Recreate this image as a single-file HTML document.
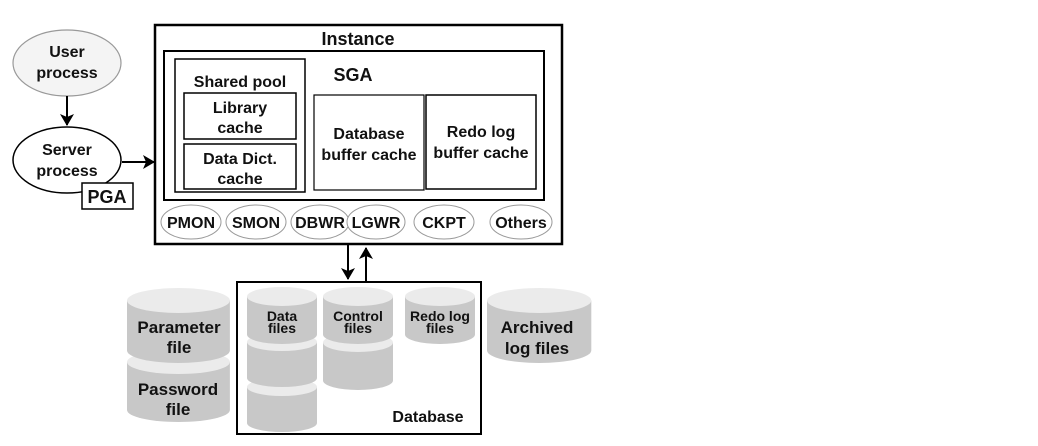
<!DOCTYPE html>
<html><head><style>
body{margin:0;background:#fff;}
svg text{font-family:"Liberation Sans",sans-serif;font-weight:bold;fill:#111;text-anchor:middle;}
</style></head><body>
<svg width="1038" height="441" viewBox="0 0 1038 441" xmlns="http://www.w3.org/2000/svg">
<defs>
<marker id="ah" markerWidth="12" markerHeight="14" refX="11" refY="7" orient="auto" markerUnits="userSpaceOnUse"><path d="M0,0 L12,7 L0,14 L3,7 z" fill="#000"/></marker>
<g id="cyl"><path d="M0,10 v40 a35,10 0 0 0 70,0 v-40" fill="#c8c8c8"/><ellipse cx="35" cy="10" rx="35" ry="10" fill="#ebebeb"/></g>
</defs>
<ellipse cx="67" cy="63" rx="54" ry="33" fill="#f4f4f4" stroke="#999" stroke-width="1.2"/>
<text x="67" y="57" font-size="16">User</text><text x="67" y="78" font-size="16">process</text>
<line x1="67" y1="96" x2="67" y2="125" stroke="#000" stroke-width="2" marker-end="url(#ah)"/>
<ellipse cx="67" cy="160" rx="54" ry="33" fill="#fff" stroke="#000" stroke-width="1.5"/>
<text x="67" y="155" font-size="16">Server</text><text x="67" y="176" font-size="16">process</text>
<rect x="82" y="183" width="51" height="26" fill="#fff" stroke="#000" stroke-width="1.5"/>
<text x="107" y="203" font-size="18">PGA</text>
<line x1="122" y1="162" x2="154" y2="162" stroke="#000" stroke-width="2" marker-end="url(#ah)"/>
<rect x="155" y="25" width="407" height="219" fill="#fff" stroke="#000" stroke-width="2.5"/>
<text x="358" y="45" font-size="18">Instance</text>
<rect x="164" y="51" width="380" height="149" fill="none" stroke="#000" stroke-width="2"/>
<text x="353" y="81" font-size="18">SGA</text>
<rect x="175" y="59" width="130" height="133" fill="none" stroke="#000" stroke-width="1.5"/>
<text x="240" y="87" font-size="16">Shared pool</text>
<rect x="184" y="93" width="112" height="46" fill="none" stroke="#000" stroke-width="1.5"/>
<text x="240" y="113" font-size="16">Library</text><text x="240" y="133" font-size="16">cache</text>
<rect x="184" y="144" width="112" height="45" fill="none" stroke="#000" stroke-width="1.5"/>
<text x="240" y="164" font-size="16">Data Dict.</text><text x="240" y="184" font-size="16">cache</text>
<rect x="314" y="95" width="110" height="95" fill="none" stroke="#000" stroke-width="1.2"/>
<text x="369" y="139" font-size="16">Database</text><text x="369" y="160" font-size="16">buffer cache</text>
<rect x="426" y="95" width="110" height="94" fill="none" stroke="#000" stroke-width="1.5"/>
<text x="481" y="137" font-size="16">Redo log</text><text x="481" y="158" font-size="16">buffer cache</text>
<g fill="#fff" stroke="#999" stroke-width="1">
<ellipse cx="191" cy="222" rx="30" ry="17"/><ellipse cx="256" cy="222" rx="30" ry="17"/>
<ellipse cx="320" cy="222" rx="29" ry="17"/><ellipse cx="376" cy="222" rx="29" ry="17"/>
<ellipse cx="444" cy="222" rx="30" ry="17"/><ellipse cx="521" cy="222" rx="31" ry="17"/>
</g>
<g font-size="16"><text x="191" y="228">PMON</text><text x="256" y="228">SMON</text><text x="320" y="228">DBWR</text><text x="376" y="228">LGWR</text><text x="444" y="228">CKPT</text><text x="521" y="228">Others</text></g>
<line x1="348" y1="245" x2="348" y2="279" stroke="#000" stroke-width="2" marker-end="url(#ah)"/>
<line x1="366" y1="282" x2="366" y2="248" stroke="#000" stroke-width="2" marker-end="url(#ah)"/>
<rect x="237" y="282" width="244" height="152" fill="#fff" stroke="#000" stroke-width="2"/>
<text x="428" y="422" font-size="16">Database</text>
<g transform="translate(247,378) scale(1,0.9)"><use href="#cyl"/></g>
<g transform="translate(247,333) scale(1,0.9)"><use href="#cyl"/></g>
<g transform="translate(247,287) scale(1,0.95)"><use href="#cyl"/></g>
<g transform="translate(323,333) scale(1,0.95)"><use href="#cyl"/></g>
<g transform="translate(323,287) scale(1,0.95)"><use href="#cyl"/></g>
<g transform="translate(405,287) scale(1,0.95)"><use href="#cyl"/></g>
<g font-size="14"><text x="282" y="321">Data</text><text x="282" y="333">files</text>
<text x="358" y="321">Control</text><text x="358" y="333">files</text>
<text x="440" y="321">Redo log</text><text x="440" y="333">files</text></g>
<g transform="translate(127,350) scale(1.47,1.2)"><use href="#cyl"/></g>
<g transform="translate(127,288) scale(1.47,1.25)"><use href="#cyl"/></g>
<text x="179" y="333" font-size="17">Parameter</text><text x="179" y="353" font-size="17">file</text>
<text x="178" y="395" font-size="17">Password</text><text x="178" y="415" font-size="17">file</text>
<g transform="translate(487,288) scale(1.49,1.25)"><use href="#cyl"/></g>
<text x="537" y="333" font-size="17">Archived</text><text x="537" y="354" font-size="17">log files</text>
</svg>
</body></html>
